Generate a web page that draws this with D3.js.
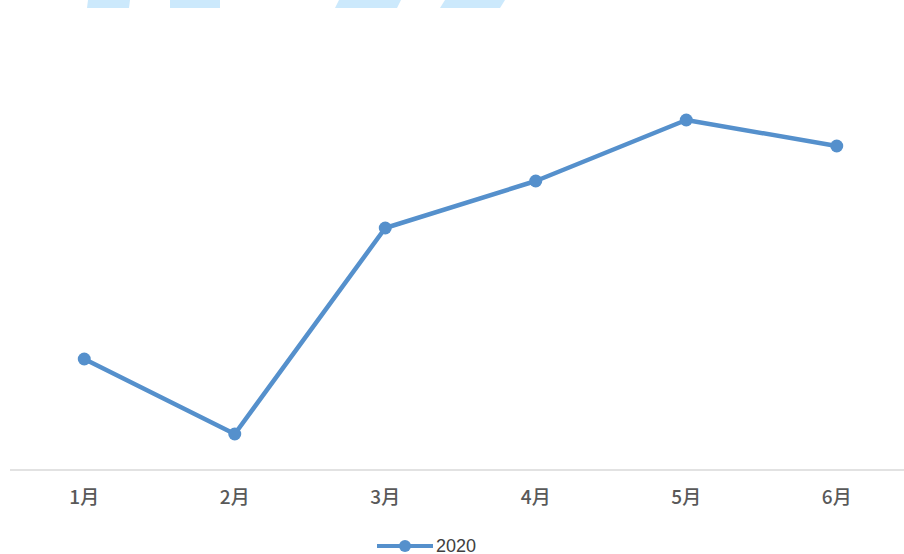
<!DOCTYPE html>
<html>
<head>
<meta charset="utf-8">
<script src="https://cdn.jsdelivr.net/npm/d3@7"></script>
<style>
  html, body { margin: 0; padding: 0; background: #ffffff; }
  svg { display: block; }
</style>
</head>
<body>
<svg id="chart" width="904" height="554"></svg>
<script>
// Monthly series for 2020
const months = ["1月", "2月", "3月", "4月", "5月", "6月"];
const values2020 = [11.1, 3.6, 24.2, 28.9, 35.0, 32.4];
const seriesName = "2020";

// Decorative header stripes (x offsets along the top edge)
const stripeLeft = [87, 170, 335, 440];
const stripeRight = [129, 220, 397, 500];
const stripeSlant = [1, 0, 4, 5];

const svg = d3.select("#chart");
const lineColor = "#5590cc";

// Header stripes
const stripes = svg.append("g");
stripeLeft.forEach((l, i) => {
  const r = stripeRight[i], s = stripeSlant[i];
  stripes.append("path")
    .attr("d", `M${l},8 L${l + s},0 L${r + s},0 L${r},8 Z`)
    .attr("fill", "#cce9fc");
});

// Scales
const x = d3.scaleBand().domain(months).range([9, 912]);
const y = d3.scaleLinear().domain([0, 40]).range([470, 70]);

// Category axis
const axis = d3.axisBottom(x).tickSize(0).tickPadding(21);
const gx = svg.append("g").attr("transform", "translate(0,470)").call(axis);
gx.select(".domain").attr("stroke", "#d9d9d9").attr("stroke-width", 1.5)
  .attr("d", "M10,0H904");
gx.selectAll("text")
  .attr("font-family", "'Noto Sans CJK SC', 'Noto Sans', sans-serif")
  .attr("font-size", 19)
  .attr("font-weight", 500)
  .attr("fill", "#595959");

const cx = d => x(d) + x.bandwidth() / 2;

// Line
const line = d3.line().x((d, i) => cx(months[i])).y(d => y(d));
svg.append("path")
  .datum(values2020)
  .attr("d", line)
  .attr("fill", "none")
  .attr("stroke", lineColor)
  .attr("stroke-width", 4.5)
  .attr("stroke-linejoin", "round");

// Markers
svg.append("g").selectAll("circle")
  .data(values2020)
  .join("circle")
  .attr("cx", (d, i) => cx(months[i]))
  .attr("cy", d => y(d))
  .attr("r", 6.5)
  .attr("fill", lineColor);

// Legend
const lg = svg.append("g").attr("transform", "translate(377,546)");
lg.append("line").attr("x1", 0).attr("x2", 56).attr("y1", 0).attr("y2", 0)
  .attr("stroke", lineColor).attr("stroke-width", 4);
lg.append("circle").attr("cx", 28).attr("cy", 0).attr("r", 6).attr("fill", lineColor);
lg.append("text").attr("x", 59).attr("y", 6)
  .attr("font-family", "'Liberation Sans', Arial, sans-serif")
  .attr("font-size", 18)
  .attr("fill", "#404040")
  .text(seriesName);
</script>
</body>
</html>
